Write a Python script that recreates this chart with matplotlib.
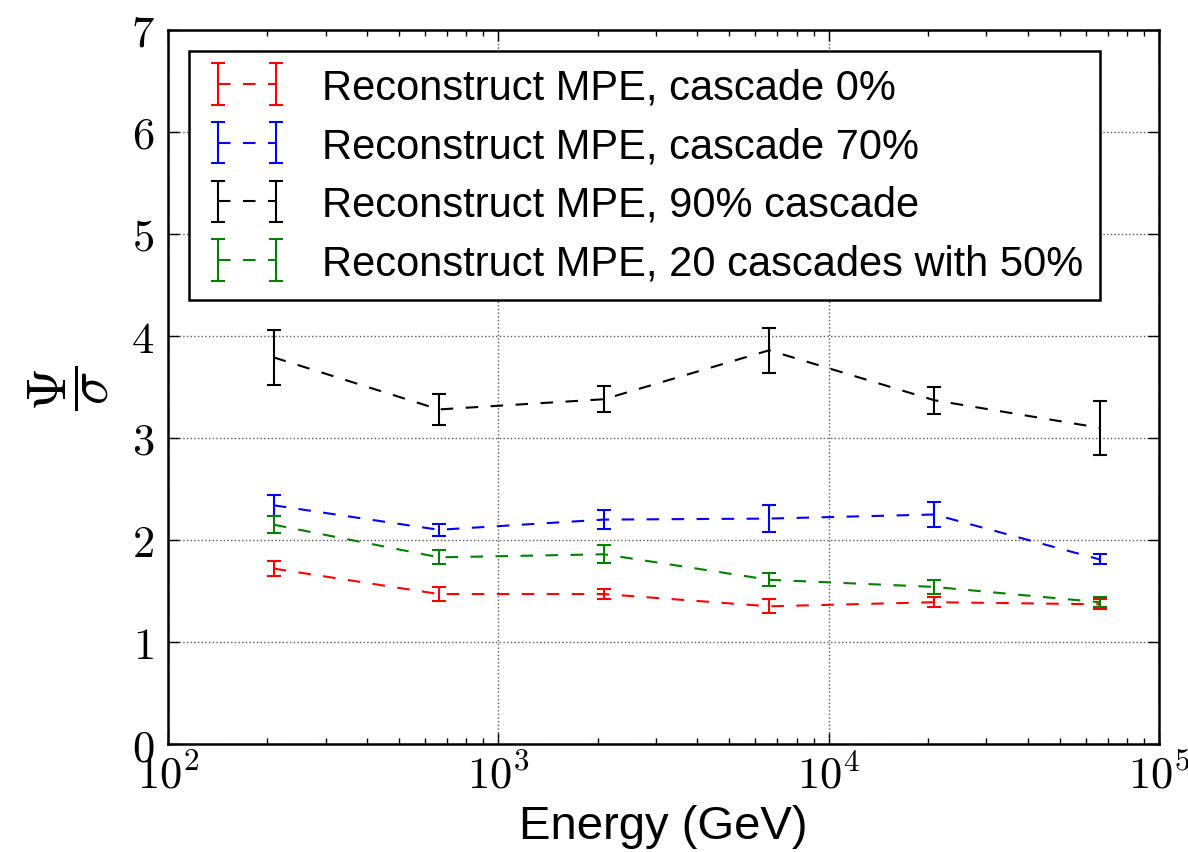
import math
import matplotlib
matplotlib.use('Agg')
from matplotlib import pyplot as plt
from matplotlib.ticker import FixedLocator, FuncFormatter, LogLocator, NullFormatter

plt.rcParams['font.family'] = ['Liberation Sans', 'DejaVu Sans']
plt.rcParams['mathtext.fontset'] = 'cm'
plt.rcParams['mathtext.default'] = 'rm'

# Energy bins (GeV)
energy = [209, 661, 2089, 6607, 20893, 66069]

# Psi / sigma per setup, with errors
cascade_0 = [1.72, 1.47, 1.47, 1.35, 1.39, 1.37]
cascade_0_err = [0.07, 0.07, 0.05, 0.07, 0.05, 0.05]
cascade_70 = [2.34, 2.10, 2.20, 2.21, 2.25, 1.81]
cascade_70_err = [0.105, 0.06, 0.09, 0.13, 0.12, 0.05]
cascade_90 = [3.79, 3.28, 3.38, 3.86, 3.37, 3.10]
cascade_90_err = [0.27, 0.155, 0.13, 0.22, 0.13, 0.265]
cascades_20 = [2.15, 1.83, 1.86, 1.61, 1.54, 1.39]
cascades_20_err = [0.085, 0.07, 0.09, 0.065, 0.07, 0.05]

labels = ['Reconstruct MPE, cascade 0%',
          'Reconstruct MPE, cascade 70%',
          'Reconstruct MPE, 90% cascade',
          'Reconstruct MPE, 20 cascades with 50%']
colors = ['r', 'b', 'k', 'g']
series = [(cascade_0, cascade_0_err), (cascade_70, cascade_70_err),
          (cascade_90, cascade_90_err), (cascades_20, cascades_20_err)]

fig = plt.figure(figsize=(11.88, 8.53), dpi=100)
ax = fig.add_axes([0.1414, 0.1266, 0.8342, 0.8371])

for (vals, errs), col, lab in zip(series, colors, labels):
    ax.errorbar(energy, vals, yerr=errs, color=col, linestyle=(0, (6, 6)),
                linewidth=1.5, elinewidth=1.5, capsize=4.8, capthick=1.5,
                label=lab)

ax.set_xscale('log')
ax.set_xlim(1e2, 1e5)
ax.set_ylim(0, 7)

ax.xaxis.set_major_locator(FixedLocator([1e2, 1e3, 1e4, 1e5]))
ax.xaxis.set_major_formatter(FuncFormatter(lambda v, p: r'$10^{%d}$' % round(math.log10(v))))
ax.xaxis.set_minor_locator(LogLocator(base=10, subs=range(2, 10)))
ax.xaxis.set_minor_formatter(NullFormatter())
ax.yaxis.set_major_locator(FixedLocator(range(0, 8)))
ax.yaxis.set_major_formatter(FuncFormatter(lambda v, p: r'$%d$' % v))

ax.tick_params(which='both', direction='in', top=True, right=True, width=1)
ax.tick_params(which='major', length=8, labelsize=32)
ax.tick_params(which='minor', length=4)
ax.tick_params(axis='x', which='major', pad=7)
ax.tick_params(axis='y', which='major', pad=10)

for s in ax.spines.values():
    s.set_linewidth(1.8)

ax.grid(True, which='major', color='0.35', linestyle=':', linewidth=1)

ax.set_xlabel('Energy (GeV)', fontsize=34, labelpad=5)
ax.set_ylabel(r'$\dfrac{\Psi}{\sigma}$', fontsize=40, labelpad=14)

leg = ax.legend(loc='upper left', fontsize=30, numpoints=2, handlelength=2.0,
                fancybox=False, framealpha=1, edgecolor='k', labelspacing=0.45)
leg.get_frame().set_linewidth(1.8)

fig.savefig('out.png', dpi=100)
